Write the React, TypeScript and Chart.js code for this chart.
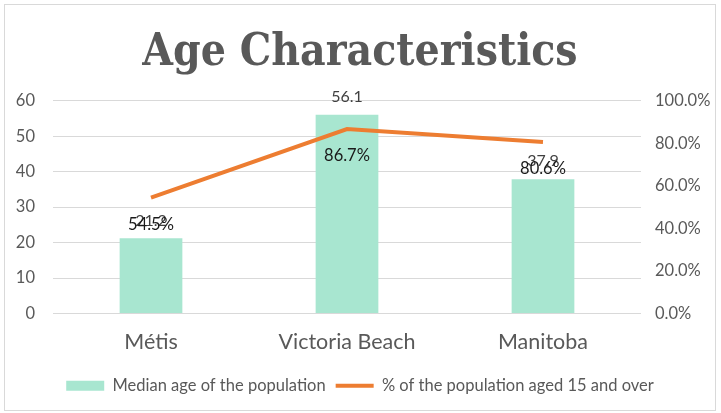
import React, { useEffect, useRef } from "react";
import { Chart, registerables } from "chart.js";

Chart.register(...registerables);

const categories = ["Métis", "Victoria Beach", "Manitoba"];
const medianAge = [21.2, 56.1, 37.9];
const pctAged15 = [54.5, 86.7, 80.6];
const leftTicks = [0, 10, 20, 30, 40, 50, 60];
const rightTicks = [0, 20, 40, 60, 80, 100];

const FONT = "Lato, 'Liberation Sans', sans-serif";

const labelPlugin = {
  id: "valueLabels",
  afterDatasetsDraw(chart: any) {
    const ctx = chart.ctx;
    ctx.save();
    ctx.textAlign = "center";
    ctx.textBaseline = "middle";
    const barMeta = chart.getDatasetMeta(0);
    ctx.font = `16px ${FONT}`;
    ctx.fillStyle = "#404040";
    barMeta.data.forEach((el: any, i: number) => {
      ctx.fillText(medianAge[i].toFixed(1), el.x, el.y - 18);
    });
    const lineMeta = chart.getDatasetMeta(1);
    ctx.font = `16.5px ${FONT}`;
    ctx.fillStyle = "#1a1a1a";
    lineMeta.data.forEach((el: any, i: number) => {
      ctx.fillText(pctAged15[i].toFixed(1) + "%", el.x, el.y + 27);
    });
    ctx.restore();
  },
};

export default function App() {
  const ref = useRef<HTMLCanvasElement | null>(null);
  useEffect(() => {
    if (!ref.current) return;
    const chart = new Chart(ref.current, {
      type: "bar",
      data: {
        labels: categories,
        datasets: [
          {
            type: "bar",
            label: "Median age of the population",
            data: medianAge,
            backgroundColor: "#a8e6d0",
            barPercentage: 0.32,
            categoryPercentage: 1,
            yAxisID: "y",
            order: 2,
          },
          {
            type: "line",
            label: "% of the population aged 15 and over",
            data: pctAged15,
            borderColor: "#ed7d31",
            backgroundColor: "#ed7d31",
            borderWidth: 4,
            pointRadius: 0,
            tension: 0,
            yAxisID: "y1",
            order: 1,
          } as any,
        ],
      },
      options: {
        responsive: true,
        maintainAspectRatio: false,
        animation: false,
        layout: { padding: { top: 0, bottom: 6, left: 0, right: 0 } },
        plugins: {
          title: {
            display: true,
            text: "Age Characteristics",
            color: "#595959",
            font: { family: "'DejaVu Serif Condensed', 'DejaVu Serif', serif", size: 44, weight: "bold", lineHeight: 1.2 },
            padding: { top: 22, bottom: 21 },
          },
          legend: {
            position: "bottom",
            labels: {
              color: "#595959",
              font: { family: FONT, size: 16.5 },
              usePointStyle: true,
              pointStyleWidth: 38,
              boxHeight: 10,
              padding: 10,
              generateLabels: () => [
                {
                  text: "Median age of the population",
                  fillStyle: "#a8e6d0",
                  strokeStyle: "#a8e6d0",
                  lineWidth: 0,
                  pointStyle: "rect",
                  datasetIndex: 0,
                  fontColor: "#595959",
                } as any,
                {
                  text: "% of the population aged 15 and over",
                  fillStyle: "#ed7d31",
                  strokeStyle: "#ed7d31",
                  lineWidth: 4,
                  pointStyle: "line",
                  datasetIndex: 1,
                  fontColor: "#595959",
                } as any,
              ],
            },
          },
          tooltip: { enabled: false },
        },
        scales: {
          x: {
            grid: { display: false },
            border: { display: false },
            ticks: { color: "#595959", font: { family: FONT, size: 21.5 }, padding: 8 },
            afterFit: (s: any) => {
              s.height = 54;
            },
          },
          y: {
            position: "left",
            min: 0,
            max: 60,
            afterBuildTicks: (s: any) => {
              s.ticks = leftTicks.map((v) => ({ value: v }));
            },
            afterFit: (s: any) => {
              s.width = 48;
            },
            grid: { color: "#d9d9d9", drawTicks: false },
            border: { display: false },
            ticks: { color: "#595959", font: { family: FONT, size: 16.5 }, padding: 18 },
          },
          y1: {
            position: "right",
            min: 0,
            max: 100,
            afterBuildTicks: (s: any) => {
              s.ticks = rightTicks.map((v) => ({ value: v }));
            },
            afterFit: (s: any) => {
              s.width = 74;
            },
            grid: { display: false, drawTicks: false },
            border: { display: false },
            ticks: {
              color: "#595959",
              font: { family: FONT, size: 16.5 },
              padding: 14,
              callback: (v: any) => Number(v).toFixed(1) + "%",
            },
          },
        },
      },
      plugins: [labelPlugin],
    });
    return () => chart.destroy();
  }, []);
  return (
    <div
      style={{
        position: "absolute",
        left: 4,
        top: 4,
        width: 712,
        height: 407,
        border: "1px solid #d9d9d9",
        boxSizing: "border-box",
        background: "#fff",
      }}
    >
      <canvas ref={ref} />
    </div>
  );
}
